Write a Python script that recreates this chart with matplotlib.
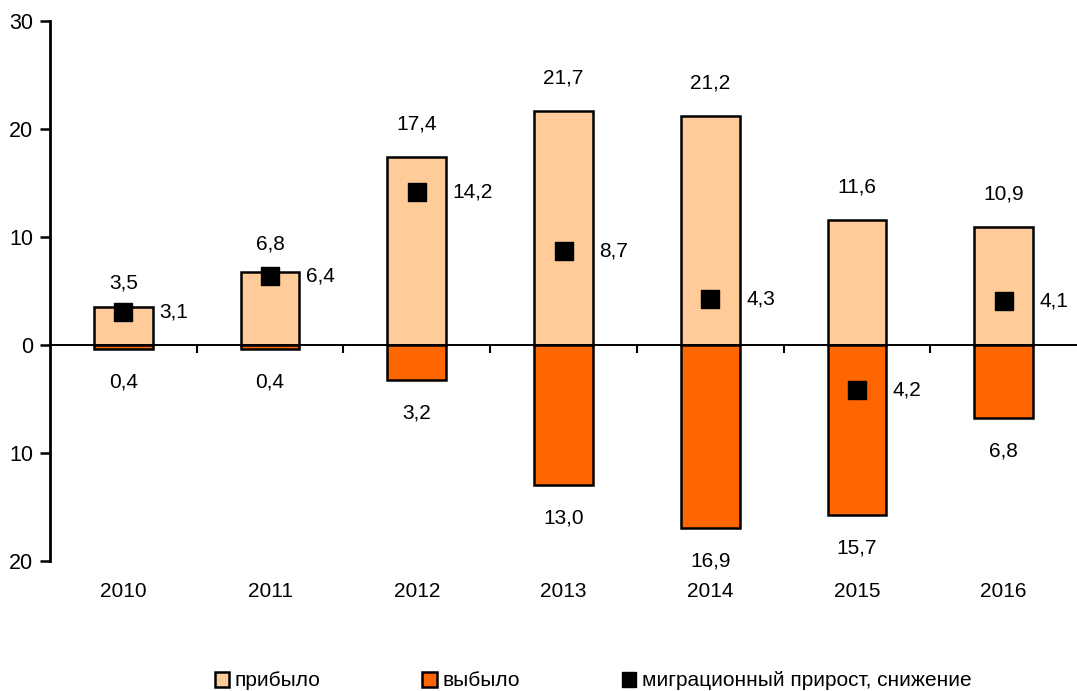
import matplotlib
matplotlib.use("Agg")
import matplotlib.pyplot as plt
import matplotlib.transforms as mtransforms
from matplotlib.ticker import FuncFormatter, FixedLocator
from matplotlib.patches import Patch
import numpy as np

years = ["2010", "2011", "2012", "2013", "2014", "2015", "2016"]
arrived = [3.5, 6.8, 17.4, 21.7, 21.2, 11.6, 10.9]
departed = [0.4, 0.4, 3.2, 13.0, 16.9, 15.7, 6.8]
net = [3.1, 6.4, 14.2, 8.7, 4.3, -4.2, 4.1]
legend_labels = ["прибыло", "выбыло", "миграционный прирост, снижение"]

plt.rcParams['font.family'] = ['Liberation Sans', 'DejaVu Sans']
fs = 15

fig = plt.figure(figsize=(10.77, 6.91), dpi=100)
ax = fig.add_axes([50/1077, 1 - 561/691, 1 - 50/1077, (561 - 21)/691])

x = np.arange(len(years))
w = 0.4
ax.bar(x, arrived, w, color="#FFCC99", edgecolor="black", linewidth=1.8, zorder=2)
ax.bar(x, [-d for d in departed], w, color="#FF6600", edgecolor="black", linewidth=1.8, zorder=2)
ax.scatter(x, net, marker="s", s=150, color="black", zorder=4)

ax.set_xlim(-0.5, len(years) - 0.5)
ax.set_ylim(-20, 30)
ax.set_yticks([-20, -10, 0, 10, 20, 30])
ax.yaxis.set_major_formatter(FuncFormatter(lambda v, p: f"{abs(v):.0f}"))
ax.tick_params(axis="y", labelsize=fs + 0.5, length=7, width=1.8, direction="out", pad=5)

for s in ["top", "right"]:
    ax.spines[s].set_visible(False)
ax.spines["left"].set_linewidth(2)
ax.spines["bottom"].set_position(("data", 0))
ax.spines["bottom"].set_linewidth(1.4)
ax.xaxis.set_major_locator(FixedLocator(np.arange(0.5, len(years) - 0.5, 1)))
ax.tick_params(axis="x", length=6, width=1.5, direction="out", labelbottom=False)

trans = mtransforms.blended_transform_factory(ax.transData, ax.transAxes)
for xi, yr in zip(x, years):
    ax.text(xi, -0.056, yr, transform=trans, ha="center", va="center", fontsize=fs)

def fmt(v):
    return f"{abs(v):.1f}".replace(".", ",")

off = mtransforms.offset_copy
for xi, a in zip(x, arrived):
    dy = 24 if a < 5 else (28 if a < 10 else 33)
    ax.text(xi, a, fmt(a), ha="center", va="center", fontsize=fs,
            transform=off(ax.transData, fig=fig, x=0, y=dy, units="dots"))
for xi, d in zip(x, departed):
    ax.text(xi, -d, fmt(d), ha="center", va="center", fontsize=fs,
            transform=off(ax.transData, fig=fig, x=0, y=-33, units="dots"))
for xi, n in zip(x, net):
    ax.text(xi, n, fmt(n), ha="left", va="center", fontsize=fs,
            transform=off(ax.transData, fig=fig, x=36, y=0, units="dots"))

handles = [Patch(facecolor="#FFCC99", edgecolor="black", linewidth=1.8),
           Patch(facecolor="#FF6600", edgecolor="black", linewidth=1.8),
           Patch(facecolor="black", edgecolor="black")]
fig.legend(handles, legend_labels, loc="center", bbox_to_anchor=(593/1077, 1 - 681/691),
           ncol=3, frameon=False, fontsize=fs, handlelength=0.7, handleheight=0.7,
           handletextpad=0.25, columnspacing=4.9)

fig.savefig("out.png", dpi=100)
